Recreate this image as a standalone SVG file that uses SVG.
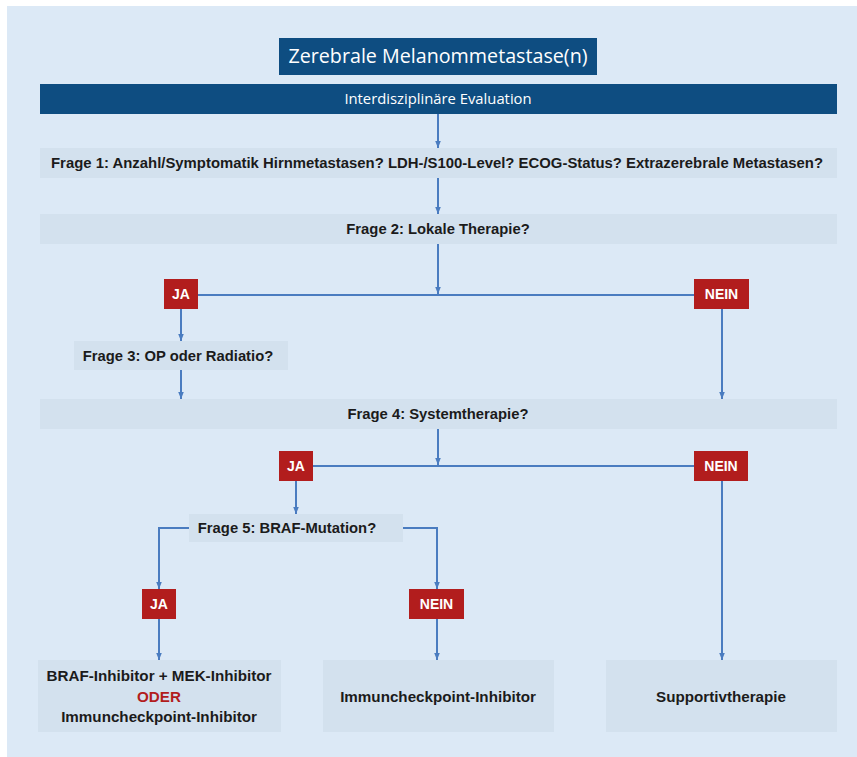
<svg xmlns="http://www.w3.org/2000/svg" width="857" height="757" viewBox="0 0 857 757">
<defs>
<marker id="ah" viewBox="0 0 10 10" refX="10" refY="5" markerWidth="7" markerHeight="7" markerUnits="userSpaceOnUse" orient="auto">
<path d="M0,1 L10,5 L0,9 Z" fill="#4a7cc0"/>
</marker>
<style>
.q{fill:#d3e1ee}
.dk{fill:#0e4d81}
.rd{fill:#b21d1d}
.t{font-family:"Liberation Sans","DejaVu Sans",sans-serif;font-size:14.8px;font-weight:bold;fill:#1b1b1b;text-anchor:middle}
.b{font-size:15.2px}
.w{font-family:"Open Sans","Liberation Sans",sans-serif;fill:#ffffff;text-anchor:middle}
.lb{font-family:"Liberation Sans","DejaVu Sans",sans-serif;font-size:14px;font-weight:bold;fill:#ffffff;text-anchor:middle}
.c{stroke:#4a7cc0;stroke-width:2;fill:none}
.a{stroke:#4a7cc0;stroke-width:2;fill:none;marker-end:url(#ah)}
</style>
</defs>
<rect x="7" y="6" width="850" height="751" fill="#dce9f6"/>

<g id="title">
<rect class="dk" x="279" y="38" width="318" height="37"/>
<text class="w" x="438" y="63" font-size="19.7">Zerebrale Melanommetastase(n)</text>
</g>
<g id="eval">
<rect class="dk" x="40" y="84" width="797" height="30"/>
<text class="w" x="438" y="104" font-size="14.8">Interdisziplinäre Evaluation</text>
</g>
<g id="frage1">
<rect class="q" x="40" y="148" width="797" height="30"/>
<text class="t" x="437" y="168" textLength="772" lengthAdjust="spacingAndGlyphs">Frage 1: Anzahl/Symptomatik Hirnmetastasen? LDH-/S100-Level? ECOG-Status? Extrazerebrale Metastasen?</text>
</g>
<g id="frage2">
<rect class="q" x="40" y="214" width="797" height="30"/>
<text class="t" x="438" y="234">Frage 2: Lokale Therapie?</text>
</g>
<g id="ja1">
<rect class="rd" x="164" y="279" width="34" height="30"/>
<text class="lb" x="181" y="299">JA</text>
</g>
<g id="nein1">
<rect class="rd" x="694" y="279" width="55" height="30"/>
<text class="lb" x="721.5" y="299">NEIN</text>
</g>
<g id="frage3">
<rect class="q" x="74" y="341" width="214" height="29"/>
<text class="t" x="178" y="361">Frage 3: OP oder Radiatio?</text>
</g>
<g id="frage4">
<rect class="q" x="40" y="399" width="797" height="30"/>
<text class="t" x="438" y="419">Frage 4: Systemtherapie?</text>
</g>
<g id="ja2">
<rect class="rd" x="279" y="451" width="34" height="30"/>
<text class="lb" x="296" y="471">JA</text>
</g>
<g id="nein2">
<rect class="rd" x="694" y="451" width="54" height="30"/>
<text class="lb" x="721" y="471">NEIN</text>
</g>
<g id="frage5">
<rect class="q" x="189" y="514" width="214" height="28"/>
<text class="t" x="287" y="533">Frage 5: BRAF-Mutation?</text>
</g>
<g id="ja3">
<rect class="rd" x="142" y="589" width="34" height="30"/>
<text class="lb" x="159" y="609">JA</text>
</g>
<g id="nein3">
<rect class="rd" x="409" y="589" width="55" height="30"/>
<text class="lb" x="436.5" y="609">NEIN</text>
</g>
<g id="braf">
<rect class="q" x="38" y="660" width="243" height="72"/>
<text class="t b" x="159" y="681">BRAF-Inhibitor + MEK-Inhibitor</text>
<text class="t b" x="159" y="702" style="fill:#b21d1d">ODER</text>
<text class="t b" x="159" y="722">Immuncheckpoint-Inhibitor</text>
</g>
<g id="immun">
<rect class="q" x="323" y="660" width="231" height="72"/>
<text class="t b" x="438" y="702">Immuncheckpoint-Inhibitor</text>
</g>
<g id="support">
<rect class="q" x="606" y="660" width="231" height="72"/>
<text class="t b" x="721" y="702">Supportivtherapie</text>
</g>

<g id="connectors">
<line class="a" x1="438" y1="114" x2="438" y2="148"/>
<line class="a" x1="438" y1="178" x2="438" y2="214"/>
<line class="c" x1="198" y1="295" x2="694" y2="295"/>
<line class="a" x1="438" y1="244" x2="438" y2="294"/>
<line class="a" x1="181" y1="309" x2="181" y2="341"/>
<line class="a" x1="181" y1="370" x2="181" y2="399"/>
<line class="a" x1="722" y1="309" x2="722" y2="399"/>
<line class="c" x1="313" y1="466" x2="694" y2="466"/>
<line class="a" x1="438" y1="429" x2="438" y2="465"/>
<line class="a" x1="296" y1="481" x2="296" y2="514"/>
<polyline class="a" points="189,528 159,528 159,589"/>
<polyline class="a" points="403,528 437,528 437,589"/>
<line class="a" x1="159" y1="619" x2="159" y2="660"/>
<line class="a" x1="437" y1="619" x2="437" y2="660"/>
<line class="a" x1="722" y1="481" x2="722" y2="660"/>
</g>
</svg>
